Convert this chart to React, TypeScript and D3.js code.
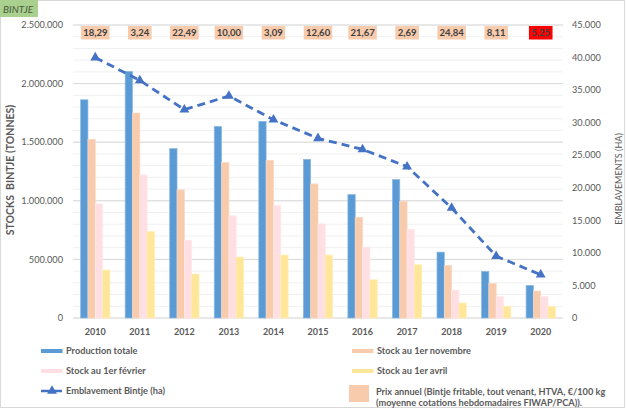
import * as d3 from "d3";
import React from "react";

const years = ["2010", "2011", "2012", "2013", "2014", "2015", "2016", "2017", "2018", "2019", "2020"];
const production = [1862000, 2104000, 1445000, 1635000, 1678000, 1354000, 1053000, 1181000, 562000, 397000, 278000];
const stockNov = [1525000, 1749000, 1093000, 1326000, 1346000, 1144000, 860000, 996000, 449000, 295000, 230000];
const stockFeb = [974000, 1221000, 664000, 872000, 960000, 803000, 605000, 755000, 238000, 182000, 185000];
const stockApr = [409000, 738000, 375000, 520000, 537000, 537000, 326000, 454000, 128000, 97000, 97000];
const emblavement = [40000, 36500, 32000, 34100, 30450, 27600, 25900, 23250, 16900, 9500, 6650];
const prices = ["18,29", "3,24", "22,49", "10,00", "3,09", "12,60", "21,67", "2,69", "24,84", "8,11", "5,25"];

const seriesNames = ["Production totale", "Stock au 1er novembre", "Stock au 1er février", "Stock au 1er avril"];
const seriesColors = ["#5b9bd5", "#f8cbad", "#ffdfe1", "#ffe699"];
const seriesStrokes = ["#8db8e3", "#fad8c2", "#ffe9ea", "#ffeeb5"];
const series = [production, stockNov, stockFeb, stockApr];

const W = 627;
const H = 409;
const plot = { left: 73, right: 563, top: 25, bottom: 318 };
const FONT = "Lato, 'Open Sans', sans-serif";
const TXT = "#595959";

const locale = d3.formatLocale({ decimal: ",", thousands: ".", grouping: [3], currency: ["", ""] });
const fmt = locale.format(",");

const App: React.FC = () => {
    const x = d3.scaleBand<string>().domain(years).range([plot.left, plot.right]).padding(0);
    const inner = d3.scaleBand<number>().domain([0, 1, 2, 3]).range([0, 29.3]).padding(0);
    const groupOffset = (x.bandwidth() - 29.3) / 2;
    const yL = d3.scaleLinear().domain([0, 2500000]).range([plot.bottom, plot.top]);
    const yR = d3.scaleLinear().domain([0, 45000]).range([plot.bottom, plot.top]);

    const minorTicks = d3.range(0, 2500001, 100000);
    const majorTicks = yL.ticks(5);
    const rightTicks = d3.range(0, 45001, 5000);

    const cx = (yr: string) => (x(yr) as number) + x.bandwidth() / 2;

    const line = d3.line<number>()
        .x((_, i) => cx(years[i]))
        .y(d => yR(d));

    const tri = d3.symbol().type(d3.symbolTriangle).size(42)();

    return (
        <svg width={W} height={H} style={{ position: "absolute", left: 0, top: 0, background: "#fff" }} fontFamily={FONT}>
            <rect x={0.5} y={0.5} width={W - 3} height={H - 2} fill="#fff" stroke="#d9d9d9" />

            {/* gridlines */}
            {minorTicks.map(t => (
                <line key={"m" + t} x1={plot.left} x2={plot.right} y1={yL(t)} y2={yL(t)} stroke="#f0f0f0" strokeWidth={1} />
            ))}
            {majorTicks.map(t => (
                <line key={"M" + t} x1={plot.left} x2={plot.right} y1={yL(t)} y2={yL(t)} stroke="#d9d9d9" strokeWidth={1} />
            ))}

            {/* bars */}
            {series.map((vals, s) =>
                vals.map((v, i) => (
                    <rect
                        key={s + "-" + i}
                        x={(x(years[i]) as number) + groupOffset + (inner(s) as number)}
                        y={yL(v)}
                        width={inner.bandwidth()}
                        height={yL(0) - yL(v)}
                        fill={seriesColors[s]}
                        stroke={seriesStrokes[s]}
                        strokeWidth={0.7}
                    />
                ))
            )}

            {/* emblavement line */}
            <path d={line(emblavement) || ""} fill="none" stroke="#4472c4" strokeWidth={2.8} strokeDasharray="8,5" />
            {emblavement.map((v, i) => (
                <path key={"t" + i} d={tri || ""} transform={`translate(${cx(years[i])},${yR(v)})`} fill="#4472c4" />
            ))}

            {/* price boxes */}
            {prices.map((p, i) => {
                const w = p.length * 4.9 + 4;
                const last = i === prices.length - 1;
                return (
                    <g key={"p" + i} transform={`translate(${cx(years[i])},0)`}>
                        <rect x={-w / 2} y={26} width={w} height={13.5} fill={last ? "#ff0000" : "#f8cbad"} />
                        <text x={0} y={36} textAnchor="middle" fontSize={9.5} fontWeight={700} fill="#404040">{p}</text>
                    </g>
                );
            })}

            {/* left axis */}
            {majorTicks.map(t => (
                <text key={"l" + t} x={63} y={yL(t) + 3.2} textAnchor="end" fontSize={9.2} fill={TXT}>{fmt(t)}</text>
            ))}
            {/* right axis */}
            {rightTicks.map(t => (
                <text key={"r" + t} x={572} y={yR(t) + 3.2} textAnchor="start" fontSize={9.2} fill={TXT}>{fmt(t)}</text>
            ))}
            {/* x axis */}
            {years.map(yr => (
                <text key={"x" + yr} x={cx(yr)} y={335} textAnchor="middle" fontSize={9} fontWeight={700} fill={TXT}>{yr}</text>
            ))}

            {/* axis titles */}
            <text transform="translate(14,170) rotate(-90)" textAnchor="middle" fontSize={10.5} fontWeight={700} fill={TXT}>
                STOCKS{"\u00a0"} BINTJE (TONNES)
            </text>
            <text transform="translate(622,179) rotate(-90)" textAnchor="middle" fontSize={9} fill={TXT}>
                EMBLAVEMENTS (HA)
            </text>

            {/* chart title tag */}
            <rect x={0} y={0} width={38} height={17} fill="#a9d08e" />
            <text x={3} y={12.5} fontSize={10} fontStyle="italic" fill="#4a5a3c">BINTJE</text>

            {/* legend */}
            {seriesNames.map((name, s) => {
                const col = s % 2;
                const row = Math.floor(s / 2);
                const lx = col === 0 ? 41 : 352;
                const ly = 351 + row * 20;
                return (
                    <g key={"lg" + s}>
                        <rect x={lx} y={ly - 2} width={21.5} height={4} fill={seriesColors[s]} />
                        <text x={lx + 25} y={ly + 3.2} fontSize={9.2} fontWeight={700} fill={TXT}>{name}</text>
                    </g>
                );
            })}
            <g>
                <line x1={41} x2={62.5} y1={391} y2={391} stroke="#4472c4" strokeWidth={2.6} strokeDasharray="8,5" />
                <path d={tri || ""} transform="translate(52,391)" fill="#4472c4" />
                <text x={66} y={394.2} fontSize={9.2} fontWeight={700} fill={TXT}>Emblavement Bintje (ha)</text>
            </g>
            <g>
                <rect x={349} y={385} width={20} height={17} fill="#f8cbad" />
                <text x={376} y={394.5} fontSize={9.2} fontWeight={700} fill={TXT}>Prix annuel (Bintje fritable, tout venant, HTVA, €/100 kg</text>
                <text x={376} y={405.5} fontSize={9.2} fontWeight={700} fill={TXT}>(moyenne cotations hebdomadaires FIWAP/PCA)).</text>
            </g>
        </svg>
    );
};

export default App;
